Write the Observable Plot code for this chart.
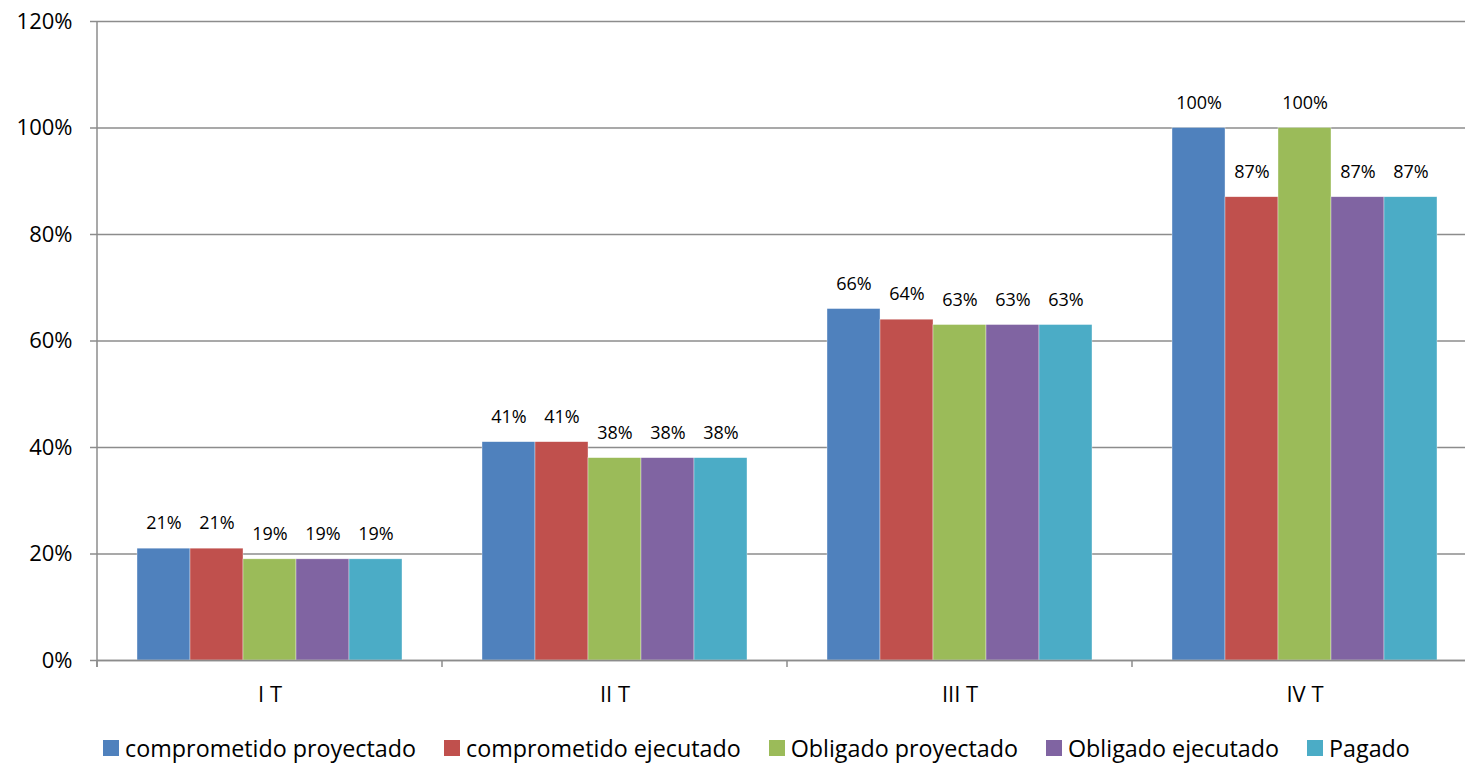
<!DOCTYPE html>
<html><head><meta charset="utf-8">
<script src="https://cdn.jsdelivr.net/npm/d3@7"></script>
<script src="https://cdn.jsdelivr.net/npm/@observablehq/plot@0.6"></script>
<style>
html,body{margin:0;padding:0;overflow:hidden;background:#fff;}
body{font-family:"Open Sans",sans-serif;width:1465px;height:766px;}
#chart{width:1477px;}
#chart svg{max-width:none !important;}
#legend{display:flex;justify-content:center;align-items:center;gap:28px;width:1477px;padding-left:36px;box-sizing:border-box;height:40px;margin-top:8px;font-size:23.3px;color:#000;}
#legend .item{display:flex;align-items:center;gap:6px;white-space:nowrap;}
#legend .sw{width:16px;height:16px;display:inline-block;}
</style>
</head><body>
<div id="chart"></div>
<div id="legend"></div>
<script>
const quarters = ["I T", "II T", "III T", "IV T"];
const series = ["comprometido proyectado", "comprometido ejecutado", "Obligado proyectado", "Obligado ejecutado", "Pagado"];
const colors = ["#4F81BD", "#C0504D", "#9BBB59", "#8064A2", "#4BACC6"];
const comprometidoProyectado = [21, 41, 66, 100];
const comprometidoEjecutado = [21, 41, 64, 87];
const obligadoProyectado = [19, 38, 63, 100];
const obligadoEjecutado = [19, 38, 63, 87];
const pagado = [19, 38, 63, 87];
const yTicks = [0, 20, 40, 60, 80, 100, 120];

const seriesValues = [comprometidoProyectado, comprometidoEjecutado, obligadoProyectado, obligadoEjecutado, pagado];
const data = quarters.flatMap((q, i) => series.map((s, j) => ({quarter: q, series: s, value: seriesValues[j][i] / 100})));
const grid = "#8c8c8c";

const chart = Plot.plot({
  width: 1477, height: 720,
  marginLeft: 97, marginRight: 0, marginTop: 21, marginBottom: 60,
  style: {fontFamily: "Open Sans", fontSize: "22px", color: "#000", background: "#fff", overflow: "visible", maxWidth: "none"},
  fx: {domain: quarters, padding: 0, round: false, label: null, axis: "bottom", tickSize: 0, tickPadding: 26},
  x: {domain: series, paddingInner: 0, paddingOuter: 0.755, round: false, axis: null},
  y: {domain: [0, 1.2], label: null},
  color: {domain: series, range: colors},
  marks: [
    Plot.ruleY(yTicks.map(v => v / 100), {stroke: grid, strokeWidth: 1.5}),
    Plot.barY(data, {fx: "quarter", x: "series", y: "value", fill: "series", stroke: "#fff", strokeWidth: 0.6, strokeOpacity: 0.6}),
    Plot.text(data, {fx: "quarter", x: "series", y: "value", text: d => Math.round(d.value * 100) + "%", dy: -25, fontSize: 18, fill: "#000"}),
    Plot.ruleY([0], {stroke: grid, strokeWidth: 1.5}),
    Plot.axisY({ticks: yTicks.map(v => v / 100), tickFormat: d => Math.round(d * 100) + "%", tickSize: 7, tickPadding: 18, stroke: grid, strokeWidth: 1.5, fill: "#000", fontSize: 22, label: null})
  ]
});
document.getElementById("chart").appendChild(chart);

// boundary ticks and vertical axis line using the plot's scales
const fxS = chart.scale("fx");
const yS = chart.scale("y");
const svg = d3.select(chart.tagName.toLowerCase() === "svg" ? chart : chart.querySelector("svg"));
const y0 = yS.apply(0), yTop = yS.apply(1.2);
const edges = quarters.map(q => fxS.apply(q)).concat([fxS.apply(quarters[quarters.length - 1]) + fxS.step]);
svg.append("g").selectAll("line").data(edges).join("line")
  .attr("x1", d => d).attr("x2", d => d).attr("y1", y0).attr("y2", y0 + 7)
  .attr("stroke", grid).attr("stroke-width", 1.5);
svg.append("line").attr("x1", edges[0]).attr("x2", edges[0]).attr("y1", yTop).attr("y2", y0 + 7)
  .attr("stroke", grid).attr("stroke-width", 1.5);

const legend = d3.select("#legend");
series.forEach((s, i) => {
  const it = legend.append("div").attr("class", "item");
  it.append("span").attr("class", "sw").style("background", colors[i]);
  it.append("span").text(s);
});
</script>
</body></html>
